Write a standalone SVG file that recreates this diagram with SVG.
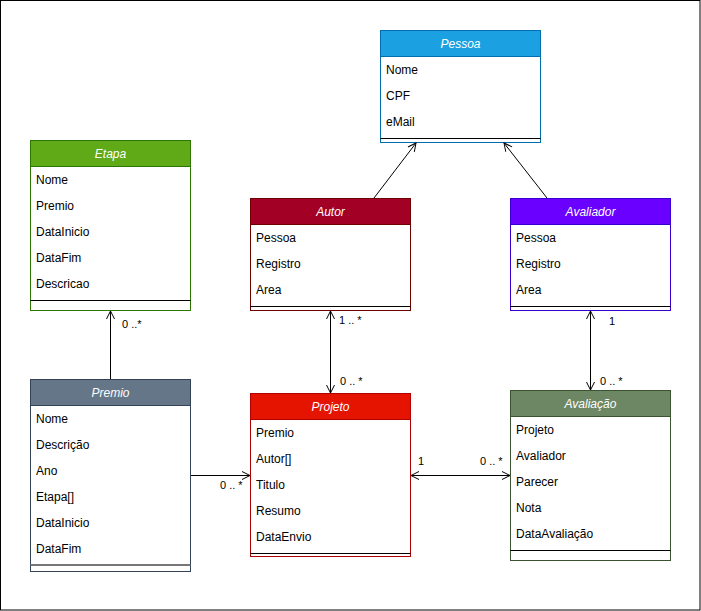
<svg xmlns="http://www.w3.org/2000/svg" width="701" height="611" viewBox="0 0 701 611">
<style>
text{font-family:"Liberation Sans",Arial,sans-serif;font-size:12px;fill:#000}
.h{fill:#fff;font-style:italic;text-anchor:middle}
.lbl{font-size:11px}
.box{fill:#fff}
.div{stroke:#000;stroke-width:1}
.conn{stroke:#000;stroke-width:1;fill:none}
</style>
<defs>
<marker id="arr" viewBox="0 0 10 10" refX="9" refY="5" markerWidth="10" markerHeight="10" markerUnits="userSpaceOnUse" orient="auto-start-reverse">
<path d="M1,1 L9,5 L1,9" fill="none" stroke="#000" stroke-width="1"/>
</marker>
</defs>
<rect x="0.5" y="0.5" width="699.5" height="609.5" fill="#fff" stroke="#000"/>

<g id="Pessoa">
<rect class="box" x="380.5" y="30.5" width="160" height="112" stroke="#006EAF"/>
<rect x="380.5" y="30.5" width="160" height="26" fill="#1ba1e2" stroke="#006EAF"/>
<text class="h" x="460.5" y="48">Pessoa</text>
<text x="386" y="74">Nome</text>
<text x="386" y="100">CPF</text>
<text x="386" y="126">eMail</text>
<line class="div" x1="380.5" y1="138.5" x2="540.5" y2="138.5"/>
</g>

<g id="Etapa">
<rect class="box" x="30.5" y="140.5" width="160" height="170" stroke="#2D7600"/>
<rect x="30.5" y="140.5" width="160" height="26" fill="#60a917" stroke="#2D7600"/>
<text class="h" x="110.5" y="158">Etapa</text>
<text x="36" y="184">Nome</text>
<text x="36" y="210">Premio</text>
<text x="36" y="236">DataInicio</text>
<text x="36" y="262">DataFim</text>
<text x="36" y="288">Descricao</text>
<line class="div" x1="30.5" y1="300.5" x2="190.5" y2="300.5"/>
</g>

<g id="Autor">
<rect class="box" x="250.5" y="198.5" width="160" height="112" stroke="#6F0000"/>
<rect x="250.5" y="198.5" width="160" height="26" fill="#a20025" stroke="#6F0000"/>
<text class="h" x="330.5" y="216">Autor</text>
<text x="256" y="242">Pessoa</text>
<text x="256" y="268">Registro</text>
<text x="256" y="294">Area</text>
<line class="div" x1="250.5" y1="306.5" x2="410.5" y2="306.5"/>
</g>

<g id="Avaliador">
<rect class="box" x="510.5" y="198.5" width="160" height="112" stroke="#3700CC"/>
<rect x="510.5" y="198.5" width="160" height="26" fill="#6a00ff" stroke="#3700CC"/>
<text class="h" x="590.5" y="216">Avaliador</text>
<text x="516" y="242">Pessoa</text>
<text x="516" y="268">Registro</text>
<text x="516" y="294">Area</text>
<line class="div" x1="510.5" y1="306.5" x2="670.5" y2="306.5"/>
</g>

<g id="Premio">
<rect class="box" x="30.5" y="379.5" width="160" height="192" stroke="#314354"/>
<rect x="30.5" y="379.5" width="160" height="26" fill="#647687" stroke="#314354"/>
<text class="h" x="110.5" y="397">Premio</text>
<text x="36" y="423">Nome</text>
<text x="36" y="449">Descrição</text>
<text x="36" y="475">Ano</text>
<text x="36" y="501">Etapa[]</text>
<text x="36" y="527">DataInicio</text>
<text x="36" y="553">DataFim</text>
<line x1="30.5" y1="565" x2="190.5" y2="565" stroke="#777" stroke-width="2"/>
</g>

<g id="Projeto">
<rect class="box" x="250.5" y="393.5" width="160" height="163" stroke="#B20000"/>
<rect x="250.5" y="393.5" width="160" height="26" fill="#e51400" stroke="#B20000"/>
<text class="h" x="330.5" y="411">Projeto</text>
<text x="256" y="437">Premio</text>
<text x="256" y="463">Autor[]</text>
<text x="256" y="489">Titulo</text>
<text x="256" y="515">Resumo</text>
<text x="256" y="541">DataEnvio</text>
<line class="div" x1="250.5" y1="553.5" x2="410.5" y2="553.5"/>
</g>

<g id="Avaliacao">
<rect class="box" x="510.5" y="390.5" width="160" height="170" stroke="#3A5431"/>
<rect x="510.5" y="390.5" width="160" height="26" fill="#6d8764" stroke="#3A5431"/>
<text class="h" x="590.5" y="408">Avaliação</text>
<text x="516" y="434">Projeto</text>
<text x="516" y="460">Avaliador</text>
<text x="516" y="486">Parecer</text>
<text x="516" y="512">Nota</text>
<text x="516" y="538">DataAvaliação</text>
<line class="div" x1="510.5" y1="550.5" x2="670.5" y2="550.5"/>
</g>

<g id="connectors">
<line class="conn" x1="374" y1="198" x2="416" y2="143" marker-end="url(#arr)"/>
<line class="conn" x1="547" y1="198" x2="504" y2="143" marker-end="url(#arr)"/>
<line class="conn" x1="110.5" y1="379" x2="110.5" y2="311" marker-end="url(#arr)"/>
<line class="conn" x1="330.5" y1="311" x2="330.5" y2="393" marker-start="url(#arr)" marker-end="url(#arr)"/>
<line class="conn" x1="590.5" y1="311" x2="590.5" y2="390" marker-start="url(#arr)" marker-end="url(#arr)"/>
<line class="conn" x1="191" y1="475.5" x2="250" y2="475.5" marker-end="url(#arr)"/>
<line class="conn" x1="411" y1="475.5" x2="510" y2="475.5" marker-start="url(#arr)" marker-end="url(#arr)"/>
<text class="lbl" x="122" y="328">0 ..*</text>
<text class="lbl" x="339" y="324">1 .. *</text>
<text class="lbl" x="340" y="385">0 .. *</text>
<text class="lbl" x="609" y="325">1</text>
<text class="lbl" x="600" y="385">0 .. *</text>
<text class="lbl" x="220" y="489">0 .. *</text>
<text class="lbl" x="418" y="465">1</text>
<text class="lbl" x="480" y="465">0 .. *</text>
</g>
</svg>
